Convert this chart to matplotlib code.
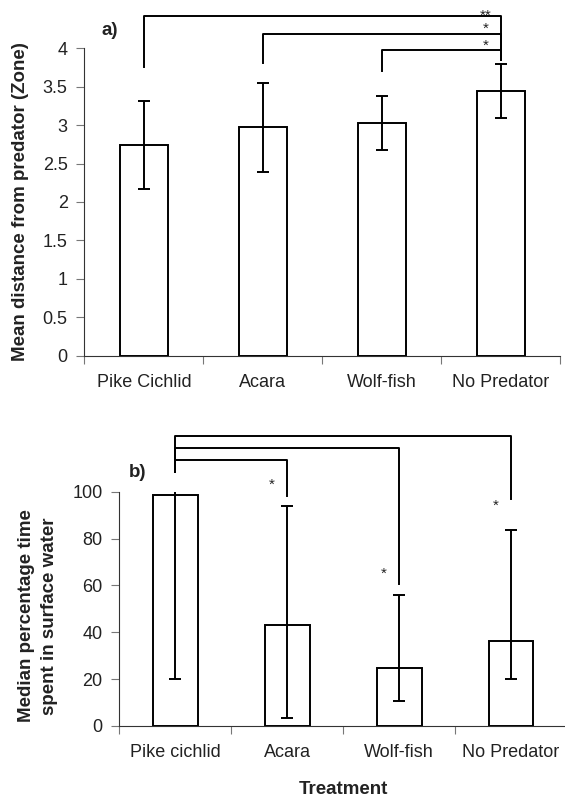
import numpy as np
import matplotlib
matplotlib.use("Agg")
import matplotlib.pyplot as plt

plt.rcParams["font.family"] = ["Liberation Sans", "DejaVu Sans"]

# panel a: mean distance from predator
treat_a = ["Pike Cichlid", "Acara", "Wolf-fish", "No Predator"]
mean_a = [2.74, 2.97, 3.03, 3.45]
hi_a = [3.32, 3.55, 3.38, 3.80]
lo_a = [2.17, 2.39, 2.68, 3.09]

# significance brackets a: each group vs No Predator
sig_a_from = [0, 1, 2]
sig_a_level = [4.42, 4.19, 3.98]
sig_a_drop = [3.76, 3.81, 3.71]
sig_a_label = ["**", "*", "*"]
sig_a_star = [4.47, 4.30, 4.08]

# panel b: median % time in surface water
treat_b = ["Pike cichlid", "Acara", "Wolf-fish", "No Predator"]
median_b = [98.7, 43.2, 24.9, 36.4]
hi_b = [101.5, 93.8, 55.9, 83.7]
lo_b = [20.1, 3.3, 10.8, 20.1]
top_cap_b = [False, True, True, True]

# significance brackets b: Pike cichlid vs each other group
sig_b_to = [1, 2, 3]
sig_b_level = [113.4, 118.8, 123.8]
sig_b_drop = [98.3, 60.6, 96.9]
sig_b_star = [104.3, 66.3, 95.3]

LW = 1.4
TXT = "#222222"
GRAY = "#777777"
FS = 13


def style_axes(ax, labels):
    ax.spines["top"].set_visible(False)
    ax.spines["right"].set_visible(False)
    ax.spines["left"].set_color("#333333")
    ax.spines["bottom"].set_color("#333333")
    ax.set_xlim(-0.5, len(labels) - 0.5)
    ax.set_xticks(np.arange(len(labels) + 1) - 0.5)
    ax.set_xticklabels([])
    ax.set_xticks(np.arange(len(labels)), minor=True)
    ax.set_xticklabels(labels, minor=True, fontsize=FS, color=TXT)
    ax.tick_params(axis="x", which="major", length=6, color=GRAY, direction="out")
    ax.tick_params(axis="x", which="minor", length=0, pad=13)
    ax.tick_params(axis="y", length=6, color=GRAY, labelsize=FS, labelcolor=TXT, pad=6)


def draw_bars(ax, vals, hi, lo, top_caps=None):
    x = np.arange(len(vals))
    ax.bar(x, vals, width=0.4, facecolor="white", edgecolor="black", linewidth=LW, zorder=2)
    ax.vlines(x, lo, hi, color="black", linewidth=LW, zorder=3)
    ax.plot(x, lo, ls="none", marker="_", ms=9, mew=LW, color="black", zorder=3)
    if top_caps is None:
        top_caps = [True] * len(vals)
    for xi, h, c in zip(x, hi, top_caps):
        if c:
            ax.plot(xi, h, ls="none", marker="_", ms=9, mew=LW, color="black", zorder=3)


def star(ax, x, y, s):
    ax.annotate(s, (x, y), xytext=(0, -2.5), textcoords="offset points",
                fontsize=11, ha="center", va="center", color=TXT, annotation_clip=False)


fig = plt.figure(figsize=(5.65, 8.0), dpi=100)

# ---- panel a ----
ax1 = fig.add_axes([0.1492, 0.5554, 0.8428, 0.3843])
draw_bars(ax1, mean_a, hi_a, lo_a)
ax1.set_ylim(0, 4)
ax1.set_yticks(np.arange(0, 4.01, 0.5))
ax1.set_yticklabels(["0", "0.5", "1", "1.5", "2", "2.5", "3", "3.5", "4"])
style_axes(ax1, treat_a)
ax1.set_ylabel("Mean distance from predator (Zone)", fontsize=13.5, fontweight="bold",
               color=TXT)
ax1.yaxis.set_label_coords(-0.116, 0.5)
ax1.text(-0.29, 4.225, "a)", fontsize=13.5, fontweight="bold", color=TXT,
         ha="center", va="center")

right = len(treat_a) - 1
for i, lev, drop, lab, sy in zip(sig_a_from, sig_a_level, sig_a_drop, sig_a_label, sig_a_star):
    ax1.plot([i, i, right, right], [drop, lev, lev, 3.85], color="black",
             linewidth=LW, clip_on=False, zorder=4)
    star(ax1, right - 0.13, sy, lab)

# ---- panel b ----
ax2 = fig.add_axes([0.2112, 0.0925, 0.7924, 0.2929])
draw_bars(ax2, median_b, hi_b, lo_b, top_cap_b)
ax2.set_ylim(0, 100)
ax2.set_yticks(np.arange(0, 101, 20))
style_axes(ax2, treat_b)
ax2.set_ylabel("Median percentage time\nspent in surface water", fontsize=13.5,
               fontweight="bold", color=TXT, linespacing=1.45)
ax2.yaxis.set_label_coords(-0.137, 0.47)
ax2.set_xlabel("Treatment", fontsize=13.5, fontweight="bold", color=TXT)
ax2.xaxis.set_label_coords(0.5, -0.235)
ax2.text(-0.34, 108, "b)", fontsize=13.5, fontweight="bold", color=TXT,
         ha="center", va="center")

for j, lev, drop, sy in zip(sig_b_to, sig_b_level, sig_b_drop, sig_b_star):
    ax2.plot([0, 0, j, j], [108.5, lev, lev, drop], color="black",
             linewidth=LW, clip_on=False, zorder=4)
    star(ax2, j - 0.14, sy, "*")

fig.savefig("out.png", dpi=100)
